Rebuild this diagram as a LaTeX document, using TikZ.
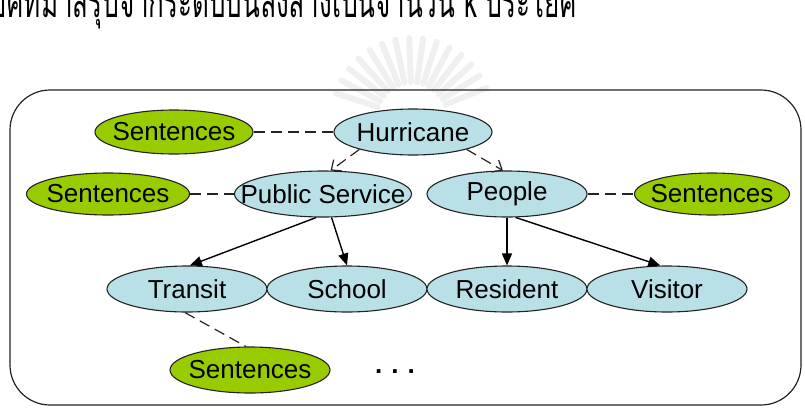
\documentclass[tikz,border=0pt]{standalone}
\usepackage{fontspec}
\setmainfont{Liberation Sans}
\newfontfamily\thaifont[Script=Thai]{Loma}
\usetikzlibrary{shapes.geometric,arrows.meta}

\definecolor{nodeblue}{RGB}{185,224,230}
\definecolor{sentgreen}{RGB}{153,204,0}
\definecolor{edgegray}{RGB}{35,35,35}
\definecolor{markgray}{RGB}{240,240,240}

% text of fixed-size ellipses does not widen them
\newcommand\ctext[1]{\makebox[0pt][c]{#1}}

\tikzset{
  concept/.style={ellipse, draw=edgegray, line width=1.1pt, fill=nodeblue,
    minimum width=160pt, minimum height=46pt, inner sep=0pt,
    font=\fontsize{26}{26}\selectfont},
  sentence/.style={concept, fill=sentgreen},
  link/.style={draw=edgegray, line width=1.2pt, dash pattern=on 11pt off 6pt},
  refine/.style={link, -{Straight Barb[length=8pt,width=14pt,line width=1.2pt]}},
  haspart/.style={draw=black, line width=1.4pt, -{Triangle[length=12pt,width=10pt]}},
  frame/.style={draw=edgegray, line width=1.2pt, rounded corners=40pt},
}

\begin{document}
\begin{tikzpicture}[x=1pt,y=-1pt]
\useasboundingbox (0,0) rectangle (805,407);
\clip (0,0) rectangle (805,407);

% faint emblem behind the caption
\foreach \a in {22,32,...,162}
  \draw[markgray, line width=6pt, line cap=round] (412,118) ++(-\a:36) -- ++(-\a:44);

% caption line, tall Thai lettering whose upper part runs off the page
\node[anchor=base east, inner sep=0pt] (caption) at (577,17)
  {\scalebox{1}[1.7]{\thaifont\fontsize{26}{26}\selectfont ประโยคที่มาสรุปจากระดับบนลงล่างเป็นจำนวน k ประโยค}};

% outer frame
\draw[frame] (10,90) rectangle (801,405);

% concept hierarchy
\node[concept, minimum width=158pt] (hur) at (413,132) {\ctext{Hurricane}};
\node[concept, minimum width=177pt] (ps)  at (323,194) {\ctext{Public Service}};
\node[concept] (peo) at (507,194) {\ctext{People}};
\node[concept] (tra) at (187,289) {\ctext{Transit}};
\node[concept] (sch) at (347,289) {\ctext{School}};
\node[concept] (res) at (507,289) {\ctext{Resident}};
\node[concept] (vis) at (667,289) {\ctext{Visitor}};

% attached sentence sets
\node[sentence, minimum width=158pt, minimum height=44pt] (s1) at (174,132) {\ctext{Sentences}};
\node[sentence, minimum width=163pt, minimum height=42pt] (s2) at (108,194) {\ctext{Sentences}};
\node[sentence, minimum width=155pt, minimum height=42pt] (s3) at (712,194) {\ctext{Sentences}};
\node[sentence, minimum width=160pt, minimum height=46pt] (s4) at (250,370) {\ctext{Sentences}};

\node[font=\bfseries\fontsize{26}{26}\selectfont, inner sep=0pt] (more) at (395,372)
  {.\hspace{9pt}.\hspace{9pt}.};

% sentence links
\draw[link] (s1) -- (hur);
\draw[link] (s2) -- (ps);
\draw[link] (peo) -- (s3);
\draw[link] (tra.265) -- (s4.100);

% refinement arrows
\draw[refine] (hur.198) -- (ps.72);
\draw[refine] (hur.342) -- (peo.100);

% part-of arrows
\draw[haspart] (ps.254) -- (tra.83);
\draw[haspart] (ps.290) -- (sch.90);
\draw[haspart] (peo.270) -- (res.90);
\draw[haspart] (peo.290) -- (vis.106);
\end{tikzpicture}
\end{document}
